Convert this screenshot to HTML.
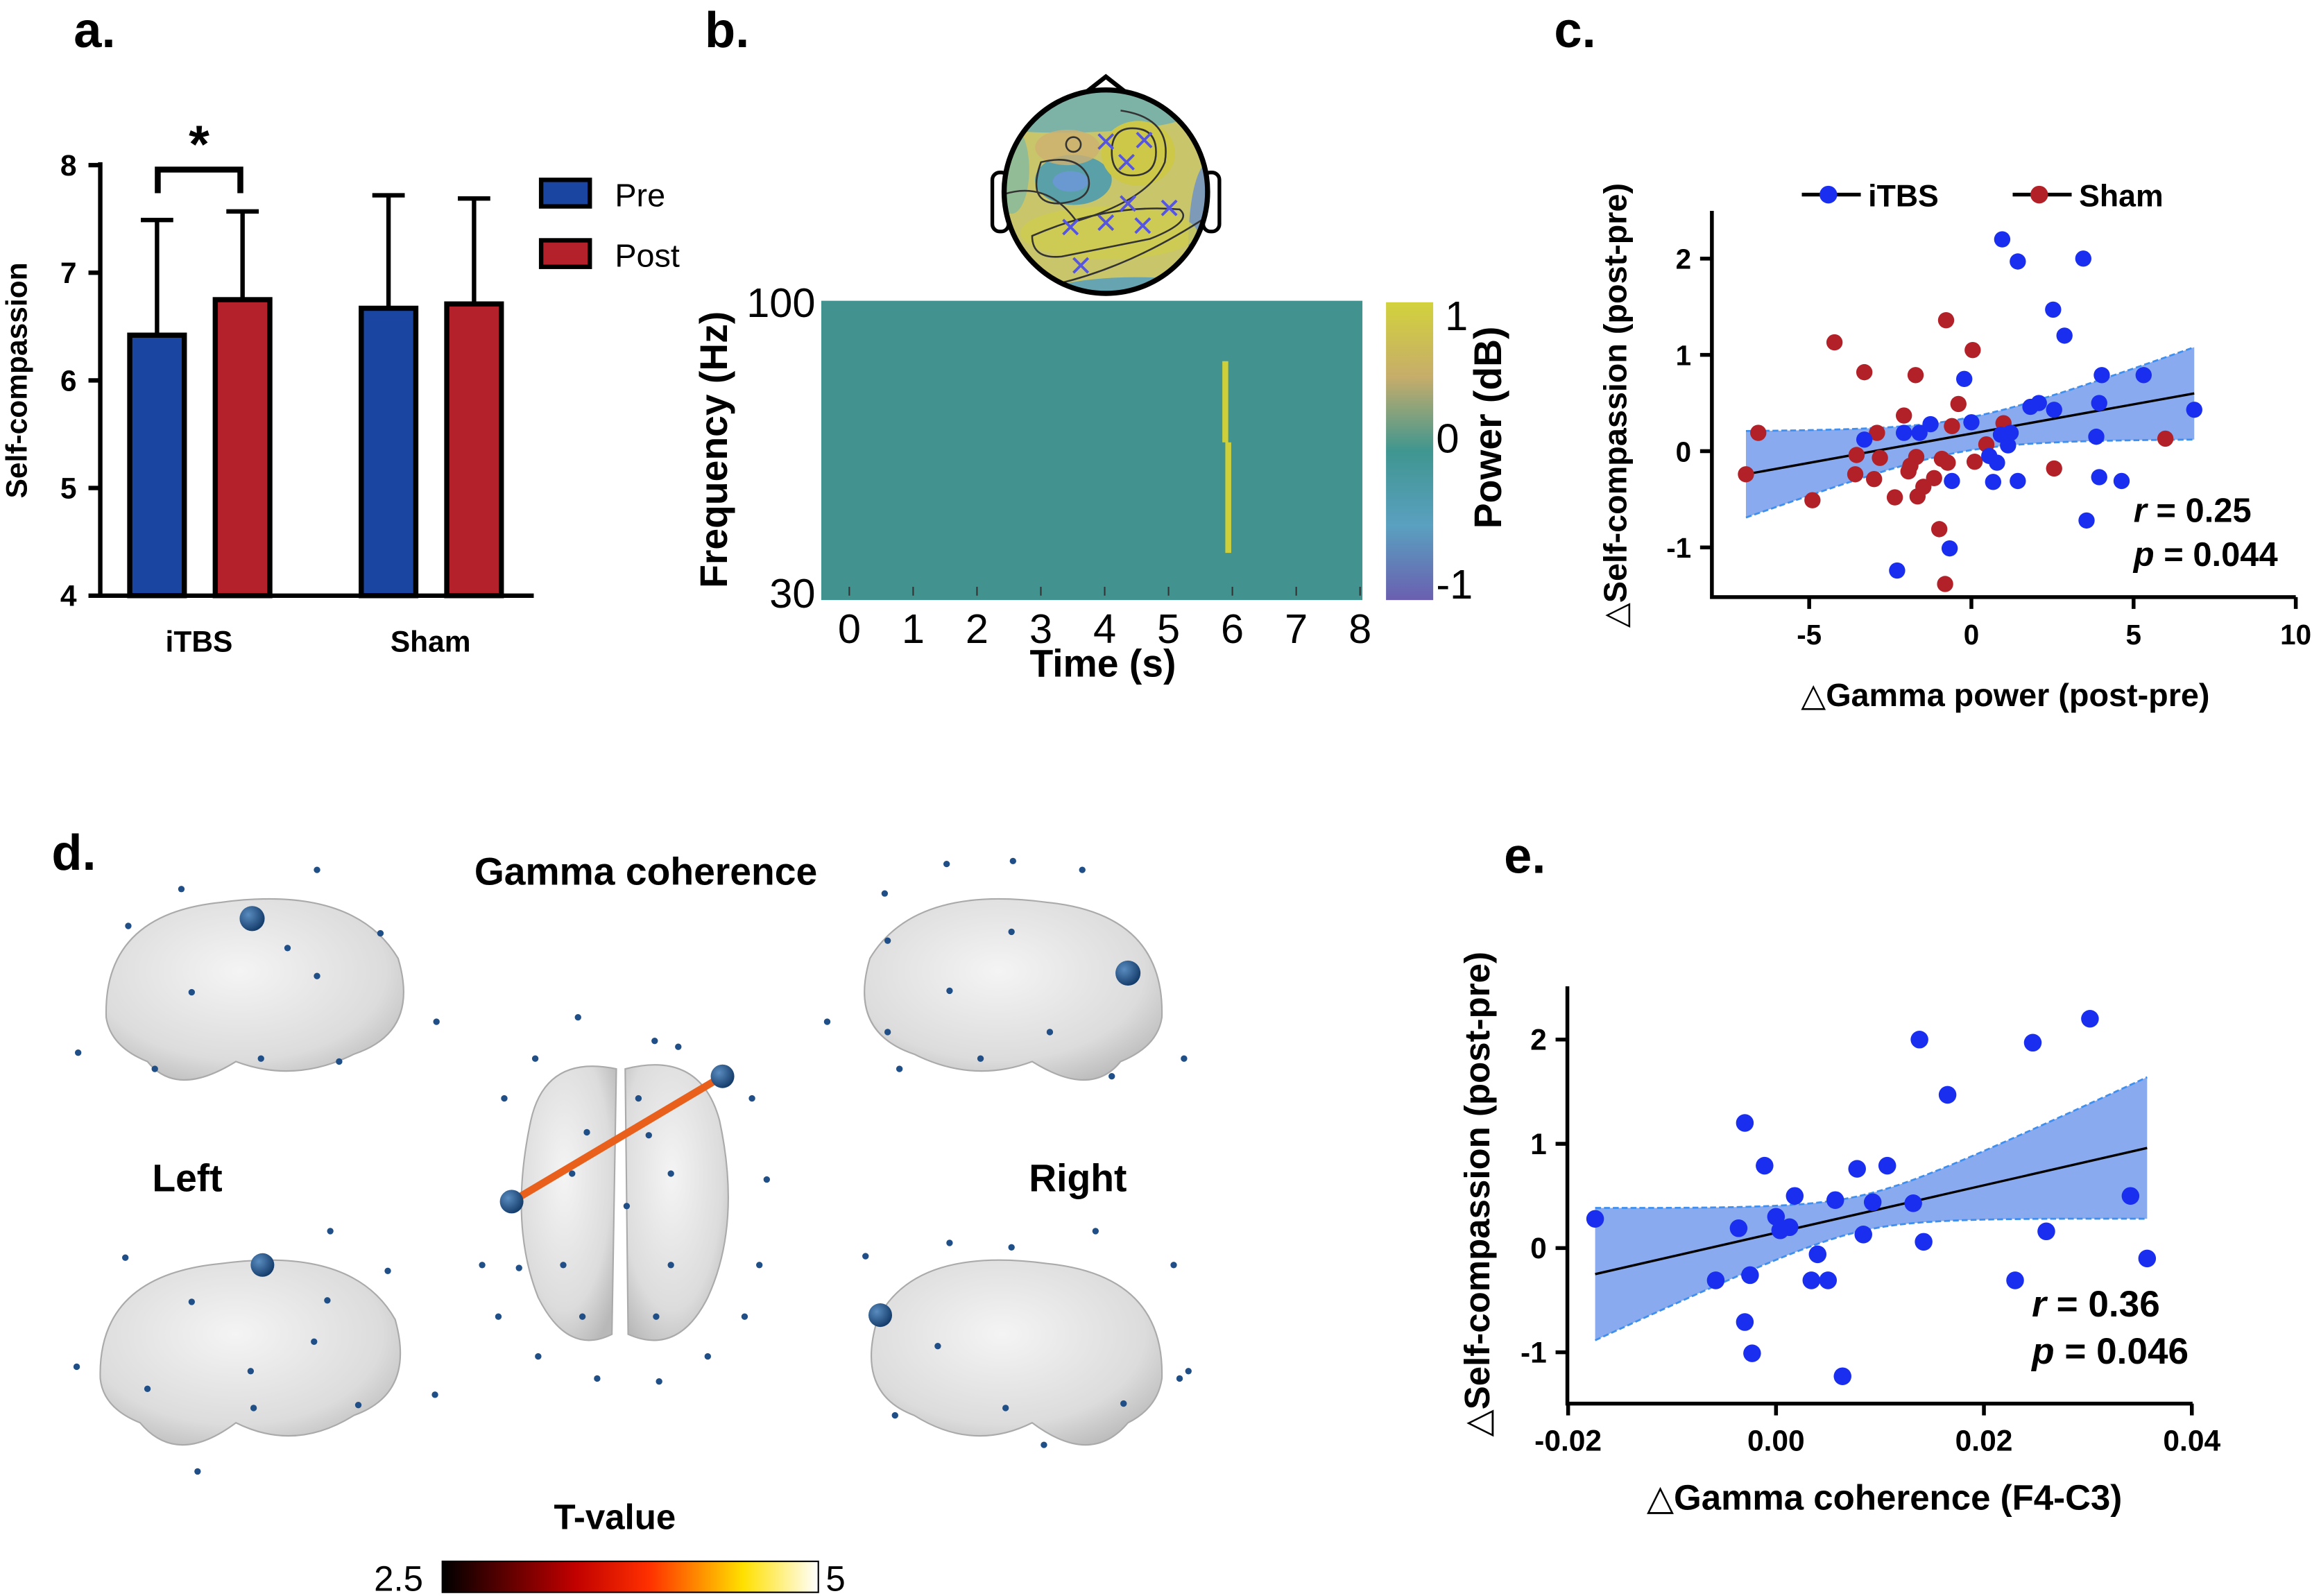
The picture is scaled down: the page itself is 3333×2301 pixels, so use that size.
<!DOCTYPE html>
<html><head><meta charset="utf-8"><style>
html,body{margin:0;padding:0;background:#fff;}
svg{display:block;font-family:"Liberation Sans","DejaVu Sans",sans-serif;}
</style></head><body>
<svg id="fig" width="3333" height="2301" viewBox="0 0 1568 1082.5" xmlns="http://www.w3.org/2000/svg">
<defs>
<linearGradient id="pwr" x1="0" y1="0" x2="0" y2="1">
<stop offset="0" stop-color="#d2d23c"/><stop offset="0.25" stop-color="#c7ad6a"/><stop offset="0.5" stop-color="#3f9690"/><stop offset="0.75" stop-color="#5aa0c0"/><stop offset="1" stop-color="#6a5fb0"/>
</linearGradient>
<linearGradient id="hot" x1="0" y1="0" x2="1" y2="0">
<stop offset="0" stop-color="#000"/><stop offset="0.35" stop-color="#c00000"/><stop offset="0.55" stop-color="#ff3000"/><stop offset="0.8" stop-color="#ffe000"/><stop offset="1" stop-color="#fff"/>
</linearGradient>
<radialGradient id="brain" cx="0.45" cy="0.4" r="0.7">
<stop offset="0" stop-color="#f4f4f4"/><stop offset="0.7" stop-color="#dcdcdc"/><stop offset="1" stop-color="#b8b8b8"/>
</radialGradient>
<radialGradient id="node" cx="0.35" cy="0.35" r="0.7">
<stop offset="0" stop-color="#5a8cc0"/><stop offset="1" stop-color="#123a68"/>
</radialGradient>
<clipPath id="headclip"><circle cx="750" cy="130" r="69"/></clipPath>
</defs>

<!-- Panel a -->
<g id="pa">
<text x="50" y="32" font-size="34" font-weight="bold">a.</text>
<text transform="translate(18,258) rotate(-90)" text-anchor="middle" font-size="20" font-weight="bold">Self-compassion</text>
<g id="pa-bars"></g>
<g id="pa-axis"></g>
<rect x="367" y="122" width="33" height="18" fill="#1a45a0" stroke="#000" stroke-width="3"/>
<text x="417" y="140" font-size="22">Pre</text>
<rect x="367" y="163" width="33" height="18" fill="#b5212a" stroke="#000" stroke-width="3"/>
<text x="417" y="181" font-size="22">Post</text>
<path d="M107,131 V115 H163 V131" fill="none" stroke="#000" stroke-width="4"/>
<text x="135" y="110" text-anchor="middle" font-size="36" font-weight="bold">*</text>
</g>

<!-- Panel b -->
<g id="pb">
<text x="478" y="32" font-size="34" font-weight="bold">b.</text>
<g>
<path d="M736,63 L750,52 L764,63" fill="none" stroke="#000" stroke-width="3"/>
<rect x="673" y="117" width="11" height="40" rx="5" fill="#fff" stroke="#000" stroke-width="2.5"/>
<rect x="816" y="117" width="11" height="40" rx="5" fill="#fff" stroke="#000" stroke-width="2.5"/>
<g clip-path="url(#headclip)">
<rect x="675" y="55" width="150" height="160" fill="#c9c56a"/>
<ellipse cx="720" cy="75" rx="90" ry="15" fill="#6aaeb5" opacity="0.8"/>
<ellipse cx="770" cy="210" rx="80" ry="22" fill="#5aa0b8" opacity="0.9"/>
<ellipse cx="820" cy="165" rx="14" ry="55" fill="#6a8fcc" opacity="0.8"/>
<ellipse cx="686" cy="115" rx="12" ry="30" fill="#7ab8a8" opacity="0.7"/>
<ellipse cx="728" cy="122" rx="26" ry="17" fill="#5aa0a8"/>
<ellipse cx="726" cy="123" rx="12" ry="7" fill="#6a98d0"/>
<ellipse cx="724" cy="100" rx="22" ry="12" fill="#d0b070" opacity="0.8"/>
<ellipse cx="772" cy="104" rx="25" ry="22" fill="#cdc848"/>
<ellipse cx="752" cy="158" rx="60" ry="18" fill="#cfcc50" opacity="0.8"/>
<path d="M768,87 q16,0 16,16 q0,16 -16,16 q-14,0 -14,-16 q0,-16 14,-16z" fill="none" stroke="#333" stroke-width="1.2"/>
<path d="M706,110 q25,-6 32,10 q4,16 -20,18 q-22,0 -12,-28z" fill="none" stroke="#333" stroke-width="1.2"/>
<path d="M700,160 q50,-22 100,-18 q10,8 -20,20 q-40,8 -60,12 q-20,2 -20,-14z" fill="none" stroke="#333" stroke-width="1.2"/>
<path d="M680,132 q30,-10 50,18 q50,-15 60,-40 q5,-30 -30,-35" fill="none" stroke="#333" stroke-width="1.2"/>
<path d="M700,196 q60,-10 120,-50" fill="none" stroke="#333" stroke-width="1.2"/>
<circle cx="728" cy="98" r="5" fill="none" stroke="#333" stroke-width="1.2"/>
</g>
<circle cx="750" cy="130" r="69" fill="none" stroke="#000" stroke-width="3.5"/>
<g stroke="#5555dd" stroke-width="1.8" id="xmarks"></g>
</g>
<rect x="557" y="204" width="367" height="203" fill="#42938f"/>
<path d="M831,245 V300 M833,300 V375" stroke="#cfcf3a" stroke-width="4"/>
<rect x="940" y="205" width="32" height="202" fill="url(#pwr)"/>
<g font-size="28">
<text x="980" y="224">1</text>
<text x="974" y="307">0</text>
<text x="974" y="406">-1</text>
<text x="553" y="215" text-anchor="end">100</text>
<text x="553" y="412" text-anchor="end">30</text>
</g>
<text transform="translate(1018,290) rotate(-90)" text-anchor="middle" font-size="26" font-weight="bold">Power (dB)</text>
<text transform="translate(493,305) rotate(-90)" text-anchor="middle" font-size="26" font-weight="bold">Frequency (Hz)</text>
<g id="pb-ticks" font-size="28"></g>
<text x="748" y="459" text-anchor="middle" font-size="26" font-weight="bold">Time (s)</text>
</g>

<!-- Panel c -->
<g id="pc">
<text x="1054" y="32" font-size="34" font-weight="bold">c.</text>
<g id="pc-plot"></g>
<line x1="1222" y1="132" x2="1262" y2="132" stroke="#000" stroke-width="2.5"/>
<circle cx="1240" cy="132" r="6" fill="#1a2ef0"/>
<text x="1267" y="140" font-size="21" font-weight="bold">iTBS</text>
<line x1="1365" y1="132" x2="1405" y2="132" stroke="#000" stroke-width="2.5"/>
<circle cx="1383" cy="132" r="6" fill="#b22028"/>
<text x="1410" y="140" font-size="21" font-weight="bold">Sham</text>
<text transform="translate(1103,275) rotate(-90)" text-anchor="middle" font-size="22" font-weight="bold">△Self-compassion (post-pre)</text>
<text x="1360" y="479" text-anchor="middle" font-size="22" font-weight="bold">△Gamma power (post-pre)</text>
<text x="1447" y="354" font-size="23" font-weight="bold"><tspan font-style="italic">r</tspan> = 0.25</text>
<text x="1447" y="384" font-size="23" font-weight="bold"><tspan font-style="italic">p</tspan> = 0.044</text>
</g>

<!-- Panel d -->
<g id="pd">
<text x="35" y="590" font-size="34" font-weight="bold">d.</text>
<text x="438" y="600" text-anchor="middle" font-size="26" font-weight="bold">Gamma coherence</text>
<text x="127" y="808" text-anchor="middle" font-size="26" font-weight="bold">Left</text>
<text x="731" y="808" text-anchor="middle" font-size="26" font-weight="bold">Right</text>
<g stroke="#aaa" stroke-width="1">
<path d="M72,690 Q70,620 150,612 Q240,600 270,650 Q285,700 240,715 Q200,735 160,720 Q120,745 100,720 Q75,710 72,690z" fill="url(#brain)"/>
<path d="M68,935 Q66,865 150,857 Q240,845 268,895 Q282,945 240,960 Q200,985 160,965 Q120,995 95,965 Q70,955 68,935z" fill="url(#brain)"/>
<path d="M788,690 Q790,620 710,612 Q620,600 590,650 Q575,700 620,715 Q660,735 700,720 Q740,745 760,720 Q785,710 788,690z" fill="url(#brain)"/>
<path d="M788,935 Q790,865 710,857 Q620,845 595,895 Q580,945 620,960 Q660,985 700,965 Q740,995 765,965 Q785,955 788,935z" fill="url(#brain)"/>
<path d="M418,725 Q370,715 360,760 Q345,830 365,880 Q385,920 415,905 Z" fill="url(#brain)"/>
<path d="M424,725 Q475,712 488,760 Q503,830 480,880 Q460,920 426,905 Z" fill="url(#brain)"/>
</g>
<g id="pd-dots" fill="#1f4f86"></g>
<line x1="347" y1="815" x2="490" y2="730" stroke="#e8601c" stroke-width="5"/>
<g fill="url(#node)">
<circle cx="171" cy="623" r="8.5"/>
<circle cx="765" cy="660" r="8.5"/>
<circle cx="347" cy="815" r="8"/>
<circle cx="490" cy="730" r="8"/>
<circle cx="178" cy="858" r="8"/>
<circle cx="597" cy="892" r="8"/>
</g>
<text x="417" y="1037" text-anchor="middle" font-size="24" font-weight="bold">T-value</text>
<rect x="300" y="1059" width="255" height="21" fill="url(#hot)" stroke="#000" stroke-width="1"/>
<text x="287" y="1079" text-anchor="end" font-size="24">2.5</text>
<text x="560" y="1079" font-size="24">5</text>
</g>

<!-- Panel e -->
<g id="pe">
<text x="1020" y="592" font-size="34" font-weight="bold">e.</text>
<g id="pe-plot"></g>
<text transform="translate(1010,810) rotate(-90)" text-anchor="middle" font-size="24" font-weight="bold">△Self-compassion (post-pre)</text>
<text x="1278" y="1024" text-anchor="middle" font-size="24" font-weight="bold">△Gamma coherence (F4-C3)</text>
<text x="1378" y="893" font-size="25" font-weight="bold"><tspan font-style="italic">r</tspan> = 0.36</text>
<text x="1378" y="925" font-size="25" font-weight="bold"><tspan font-style="italic">p</tspan> = 0.046</text>
</g>
</svg>
<script>
// ---- Panel a data ----
const barGroups = ["iTBS", "Sham"];
const preMeans = [6.42, 6.67];
const postMeans = [6.75, 6.71];
const preSD = [1.07, 1.05];
const postSD = [0.82, 0.98];
const aTicks = [4, 5, 6, 7, 8];
// ---- Panel b ticks ----
const timeTicks = [0, 1, 2, 3, 4, 5, 6, 7, 8];
// ---- Panel c data ----
const cItbsX = [0.95,1.43,3.45,2.52,2.87,-0.22,4.02,5.31,1.82,2.08,2.55,3.94,6.87,-3.3,-2.08,-1.6,-1.26,0,0.91,1.21,1.13,3.85,0.55,0.79,-0.6,0.67,1.43,3.94,4.63,3.55,-0.67,-2.29];
const cItbsY = [2.2,1.97,2.0,1.47,1.2,0.75,0.79,0.79,0.46,0.5,0.43,0.5,0.43,0.12,0.19,0.19,0.28,0.3,0.17,0.19,0.06,0.15,-0.05,-0.12,-0.31,-0.32,-0.31,-0.27,-0.31,-0.72,-1.01,-1.24];
const cShamX = [-0.78,-4.22,0.04,-3.3,-1.72,-0.4,-2.08,-6.57,-2.91,-0.6,0.99,5.98,0.46,-3.54,-2.82,-1.7,-0.91,-0.73,0.1,-1.88,-1.94,-6.95,-3.58,-3.0,2.55,-1.15,-1.48,-1.66,-2.36,-4.9,-0.99,-0.81];
const cShamY = [1.36,1.13,1.05,0.82,0.79,0.49,0.37,0.19,0.19,0.26,0.29,0.13,0.07,-0.04,-0.07,-0.06,-0.08,-0.12,-0.11,-0.15,-0.21,-0.24,-0.24,-0.29,-0.18,-0.28,-0.37,-0.47,-0.48,-0.51,-0.81,-1.38];
const cXTicks = [-5, 0, 5, 10];
const cYTicks = [-1, 0, 1, 2];
const cFit = [-6.95, -0.24, 6.87, 0.60];
// ---- Panel e data ----
const eX = [-0.0174,-0.0030,-0.0011,0.0018,0.0000,-0.0036,0.0004,0.0013,0.0057,0.0078,0.0107,0.0093,0.0132,0.0138,0.0247,0.0302,0.0165,0.0341,0.0084,0.0142,0.0260,0.0040,-0.0058,-0.0025,0.0034,0.0050,0.0230,0.0357,-0.0030,-0.0023,0.0064];
const eY = [0.28,1.20,0.79,0.50,0.30,0.19,0.17,0.20,0.46,0.76,0.79,0.44,0.43,2.0,1.97,2.2,1.47,0.50,0.13,0.06,0.16,-0.06,-0.31,-0.26,-0.31,-0.31,-0.31,-0.10,-0.71,-1.01,-1.23];
const eXTicks = [-0.02, 0.00, 0.02, 0.04];
const eXTickLabels = ["-0.02", "0.00", "0.02", "0.04"];
const eYTicks = [-1, 0, 1, 2];
const eFit = [-0.0174, -0.25, 0.0357, 0.96];

const NS = "http://www.w3.org/2000/svg";
function mk(tag, attrs, parent) {
  const el = document.createElementNS(NS, tag);
  for (const k in attrs) el.setAttribute(k, attrs[k]);
  parent.appendChild(el);
  return el;
}

// ---- Panel a ----
(function () {
  const g = document.getElementById("pa-bars");
  const ax = document.getElementById("pa-axis");
  const ya = v => 404 - (v - 4) * 73;
  const groupX = [88, 245];
  const bw = 37;
  barGroups.forEach((name, i) => {
    [[preMeans[i], preSD[i], "#1a45a0", 0, "pre"], [postMeans[i], postSD[i], "#b5212a", 58, "post"]].forEach(([m, sd, col, off, lab]) => {
      const x = groupX[i] + off;
      const cx = x + bw / 2;
      const eb = mk("path", { d: `M${cx},${ya(m)} V${ya(m + sd)} M${cx - 11},${ya(m + sd)} H${cx + 11}`, stroke: "#000", "stroke-width": 3, fill: "none" }, g);
      
      
      const r = mk("rect", { x: x, y: ya(m), width: bw, height: 404 - ya(m), fill: col, stroke: "#000", "stroke-width": 3.5 }, g);
      
      
    });
    const t = mk("text", { x: groupX[i] + 47, y: 442, "text-anchor": "middle", "font-size": 20, "font-weight": "bold" }, ax);
    t.textContent = name;
    
    
  });
  const axl = mk("path", { d: "M68,110 V404 H362", stroke: "#000", "stroke-width": 3, fill: "none" }, ax);
  
  
  aTicks.forEach(v => {
    mk("line", { x1: 60, x2: 68, y1: ya(v), y2: ya(v), stroke: "#000", "stroke-width": 3 }, ax);
    const t = mk("text", { x: 52, y: ya(v) + 7, "text-anchor": "end", "font-size": 20, "font-weight": "bold" }, ax);
    t.textContent = v;
    
    
  });
})();

// ---- Panel b ----
(function () {
  const g = document.getElementById("pb-ticks");
  const xt = v => 576 + v * 43.3;
  timeTicks.forEach(v => {
    mk("line", { x1: xt(v), x2: xt(v), y1: 404, y2: 398, stroke: "#333", "stroke-width": 1 }, g);
    const t = mk("text", { x: xt(v), y: 436, "text-anchor": "middle" }, g);
    t.textContent = v;
    
    
  });
  const xm = document.getElementById("xmarks");
  [[750,96],[776,95],[764,110],[765,138],[793,141],[750,151],[726,154],[775,153],[733,180]].forEach(([x, y]) => {
    mk("path", { d: `M${x - 5},${y - 5} L${x + 5},${y + 5} M${x - 5},${y + 5} L${x + 5},${y - 5}` }, xm);
  });
})();

// ---- scatter helper ----
function scatter(gid, o) {
  const g = document.getElementById(gid);
  const sx = v => o.x0 + (v - o.xv0) * o.kx;
  const sy = v => o.y0 - v * o.ky;
  const [fx1, fy1, fx2, fy2] = o.fit;
  const slope = (fy2 - fy1) / (fx2 - fx1);
  const f = x => fy1 + slope * (x - fx1);
  const up = [], lo = [];
  for (let i = 0; i <= 40; i++) {
    const x = fx1 + (fx2 - fx1) * i / 40;
    const hw = Math.sqrt(o.h0 * o.h0 + o.k * o.k * (x - o.xm) * (x - o.xm));
    up.push([sx(x), sy(f(x) + hw)]);
    lo.push([sx(x), sy(f(x) - hw)]);
  }
  const band = mk("path", { d: "M" + up.map(p => p.join(",")).join(" L") + " L" + lo.slice().reverse().map(p => p.join(",")).join(" L") + "Z", fill: "#8aaaf0", stroke: "none" }, g);
  
  
  mk("path", { d: "M" + up.map(p => p.join(",")).join(" L"), fill: "none", stroke: "#3f8fef", "stroke-width": 1.3, "stroke-dasharray": "4,2" }, g);
  mk("path", { d: "M" + lo.map(p => p.join(",")).join(" L"), fill: "none", stroke: "#3f8fef", "stroke-width": 1.3, "stroke-dasharray": "4,2" }, g);
  const fl = mk("line", { x1: sx(fx1), y1: sy(fy1), x2: sx(fx2), y2: sy(fy2), stroke: "#000", "stroke-width": 1.6 }, g);
  
  
  o.series.forEach(s => {
    s.x.forEach((xv, i) => {
      const c = mk("circle", { cx: sx(xv), cy: sy(s.y[i]), r: o.r, fill: s.color }, g);
      
      
    });
  });
  const a = mk("path", { d: `M${o.axL},${o.axT} V${o.axB} H${o.axR}`, stroke: "#000", "stroke-width": 2.6, fill: "none" }, g);
  
  
  o.xTicks.forEach((v, i) => {
    mk("line", { x1: sx(v), x2: sx(v), y1: o.axB, y2: o.axB + 8, stroke: "#000", "stroke-width": 2.6 }, g);
    const t = mk("text", { x: sx(v), y: o.axB + 32, "text-anchor": "middle", "font-size": o.fs, "font-weight": "bold" }, g);
    t.textContent = o.xLabels ? o.xLabels[i] : v;
    
    
  });
  o.yTicks.forEach(v => {
    mk("line", { x1: o.axL - 8, x2: o.axL, y1: sy(v), y2: sy(v), stroke: "#000", "stroke-width": 2.6 }, g);
    const t = mk("text", { x: o.axL - 14, y: sy(v) + 7, "text-anchor": "end", "font-size": o.fs, "font-weight": "bold" }, g);
    t.textContent = v;
    
    
  });
}
scatter("pc-plot", {
  x0: 1337, xv0: 0, kx: 22, y0: 306, ky: 65.3, r: 5.5,
  fit: cFit, h0: 0.17, k: 0.0626, xm: -0.3,
  series: [{ name: 'sham', x: cShamX, y: cShamY, color: "#b22028" }, { name: 'itbs', x: cItbsX, y: cItbsY, color: "#1a2ef0" }],
  axL: 1161, axT: 143, axB: 405, axR: 1557, xTicks: cXTicks, yTicks: cYTicks, fs: 19
});
scatter("pe-plot", {
  x0: 1204.5, xv0: 0, kx: 7050, y0: 846.5, ky: 70.7, r: 6,
  fit: eFit, h0: 0.17, k: 23.9, xm: 0.0082,
  series: [{ name: 'itbs', x: eX, y: eY, color: "#1a2ef0" }],
  axL: 1063, axT: 669, axB: 952, axR: 1487, xTicks: eXTicks, xLabels: eXTickLabels, yTicks: eYTicks, fs: 20
});

// ---- Panel d small nodes ----
(function () {
  const g = document.getElementById("pd-dots");
  [[123,603],[215,590],[87,628],[258,633],[195,643],[215,662],[130,673],[296,693],[53,714],[105,725],[177,718],[230,720],
   [392,690],[444,706],[363,718],[460,710],[342,745],[510,745],[398,768],[440,770],[388,796],[455,796],[520,800],[327,858],[352,860],[382,858],[455,858],[515,858],[338,893],[395,893],[445,893],[505,893],[365,920],[480,920],[405,935],[447,937],[433,745],[425,818],
   [600,606],[642,586],[687,584],[734,590],[602,638],[686,632],[561,693],[644,672],[602,700],[754,730],[665,718],[712,700],[803,718],[610,725],
   [85,853],[224,835],[263,862],[130,883],[213,910],[52,927],[100,942],[172,955],[243,953],[295,946],[134,998],[222,882],[170,930],
   [587,852],[644,843],[686,846],[743,835],[796,858],[636,913],[607,960],[682,955],[762,952],[800,935],[708,980],[806,930]].forEach(([x, y]) => {
    const c = mk("circle", { cx: x, cy: y, r: 2.2 }, g);
    
    
  });
})();
</script>
</body></html>
